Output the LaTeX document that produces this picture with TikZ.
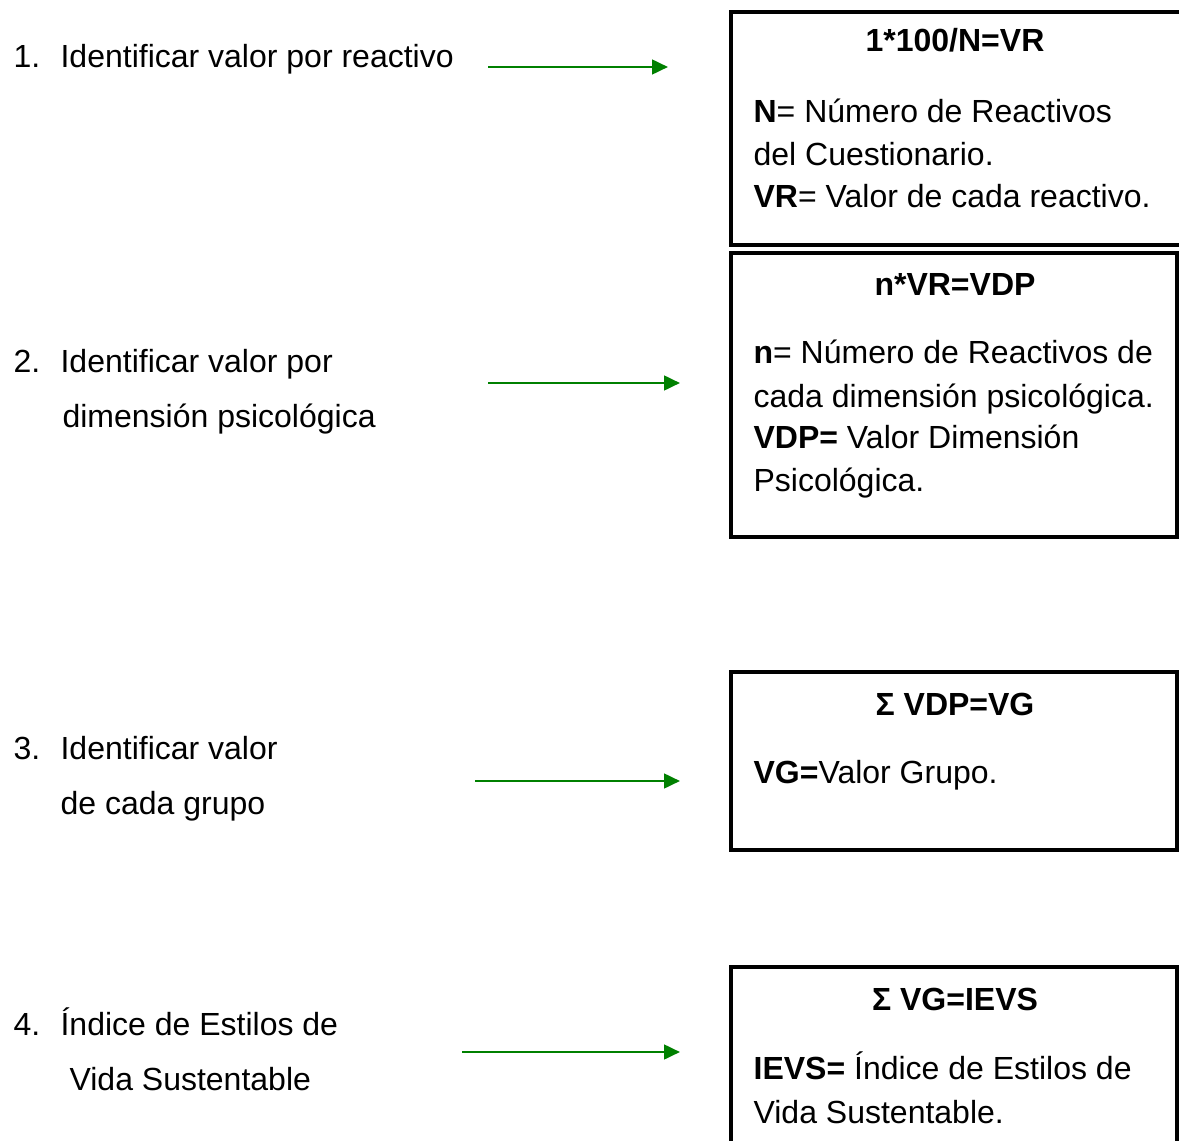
\documentclass[tikz,border=0pt]{standalone}
\usepackage{fontspec}
\setmainfont{Liberation Sans}
\usetikzlibrary{arrows.meta}
\definecolor{arrgreen}{RGB}{0,128,0}
\tikzset{every picture/.style={line width=2.4pt}}

\begin{document}
\begin{tikzpicture}[x=0.75pt,y=0.75pt,yscale=-1,xscale=1,
    linetxt/.style={anchor=base west,inner sep=0pt,font=\fontsize{24}{30}\selectfont},
    titletxt/.style={anchor=base,inner sep=0pt,font=\fontsize{24}{30}\selectfont\bfseries},
    greenarr/.style={draw=arrgreen,line width=2pt,-{Triangle[length=12pt,width=11pt]}}]
    \useasboundingbox (0,0) rectangle (1179,1141);

    %Shape: Rectangle [box1]
    \draw   (731,12) rectangle (1190,245) ;
    %Shape: Rectangle [box2]
    \draw   (731,253) rectangle (1177,537) ;
    %Shape: Rectangle [box3]
    \draw   (731,672) rectangle (1177,850) ;
    %Shape: Rectangle [box4]
    \draw   (731,967) rectangle (1177,1160) ;

    % Text Node
    \node[linetxt] (num1) at (12,68) {1.};
    \node[linetxt] (step1) at (59,68) {Identificar valor por reactivo};
    % Text Node
    \node[linetxt] (num2) at (12,373) {2.};
    \node[linetxt] (step2a) at (59,373) {Identificar valor por};
    \node[linetxt] (step2b) at (61,427) {dimensión psicológica};
    % Text Node
    \node[linetxt] (num3) at (12,759) {3.};
    \node[linetxt] (step3a) at (59,759) {Identificar valor};
    \node[linetxt] (step3b) at (59,814) {de cada grupo};
    % Text Node
    \node[linetxt] (num4) at (12,1035) {4.};
    \node[linetxt] (step4a) at (59,1035) {Índice de Estilos de};
    \node[linetxt] (step4b) at (68,1090) {Vida Sustentable};

    % Text Node
    \node[titletxt] (title1) at (955,52) {1*100/N=VR};
    \node[linetxt] (body1a) at (752,123) {\textbf{N}= Número de Reactivos};
    \node[linetxt] (body1b) at (752,166) {del Cuestionario.};
    \node[linetxt] (body1c) at (752,208) {\textbf{VR}= Valor de cada reactivo.};
    % Text Node
    \node[titletxt] (title2) at (955,296) {n*VR=VDP};
    \node[linetxt] (body2a) at (752,364) {\textbf{n}= Número de Reactivos de};
    \node[linetxt] (body2b) at (752,407) {cada dimensión psicológica.};
    \node[linetxt] (body2c) at (752,449) {\textbf{VDP=} Valor Dimensión};
    \node[linetxt] (body2d) at (752,491) {Psicológica.};
    % Text Node
    \node[titletxt] (title3) at (955,715) {Σ VDP=VG};
    \node[linetxt] (body3a) at (752,783) {\textbf{VG=}Valor Grupo.};
    % Text Node
    \node[titletxt] (title4) at (955,1010) {Σ VG=IEVS};
    \node[linetxt] (body4a) at (752,1079) {\textbf{IEVS=} Índice de Estilos de};
    \node[linetxt] (body4b) at (752,1123) {Vida Sustentable.};

    %Straight Lines [arrows]
    \coordinate (a1s) at (488,67);  \coordinate (a1e) at (668,67);
    \coordinate (a2s) at (488,383); \coordinate (a2e) at (680,383);
    \coordinate (a3s) at (475,781); \coordinate (a3e) at (680,781);
    \coordinate (a4s) at (462,1052); \coordinate (a4e) at (680,1052);
    \draw[greenarr] (a1s) -- (a1e) ;
    \draw[greenarr] (a2s) -- (a2e) ;
    \draw[greenarr] (a3s) -- (a3e) ;
    \draw[greenarr] (a4s) -- (a4e) ;

\end{tikzpicture}
\end{document}
